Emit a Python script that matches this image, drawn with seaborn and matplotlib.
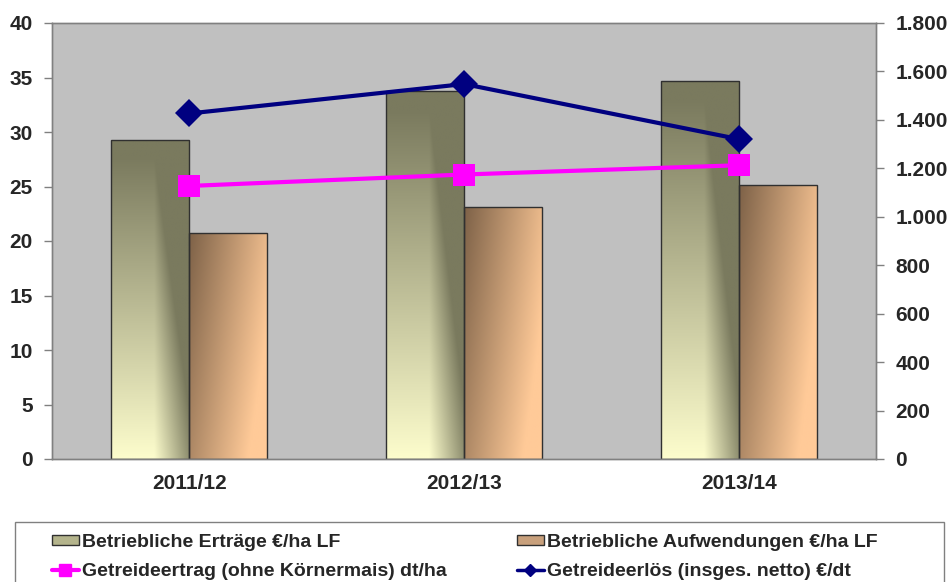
import numpy as np
import pandas as pd
import matplotlib
matplotlib.use("Agg")
import matplotlib.pyplot as plt
from matplotlib.patches import Patch, Rectangle
from matplotlib.lines import Line2D
from matplotlib.ticker import FuncFormatter, FixedLocator
import seaborn as sns

# Daten
jahre = ["2011/12", "2012/13", "2013/14"]
ertraege = [1316, 1518, 1561]          # Betriebliche Erträge €/ha LF (rechte Achse)
aufwendungen = [933, 1039, 1130]       # Betriebliche Aufwendungen €/ha LF (rechte Achse)
getreideertrag = [25.05, 26.1, 26.95]  # dt/ha (linke Achse)
getreideerloes = [31.7, 34.4, 29.35]   # €/dt (linke Achse)

lab_ertr = "Betriebliche Erträge €/ha LF"
lab_aufw = "Betriebliche Aufwendungen €/ha LF"
lab_getr = "Getreideertrag (ohne Körnermais) dt/ha"
lab_erl = "Getreideerlös (insges. netto) €/dt"

sns.set_style("white")
plt.rcParams["font.family"] = ["Liberation Sans", "DejaVu Sans"]
plt.rcParams["font.weight"] = "bold"

df = pd.DataFrame({
    "Jahr": jahre * 2,
    "Wert": ertraege + aufwendungen,
    "Serie": [lab_ertr] * 3 + [lab_aufw] * 3,
})

fig = plt.figure(figsize=(9.49, 5.82), dpi=100)
ax = fig.add_axes([52 / 949, 1 - 459 / 582, (876 - 52) / 949, (459 - 23) / 582])
ax.set_facecolor("#C0C0C0")

sns.barplot(data=df, x="Jahr", y="Wert", hue="Serie", order=jahre,
            hue_order=[lab_ertr, lab_aufw], palette=["#A8A880", "#C09870"],
            width=0.568, edgecolor="#303030", linewidth=1, saturation=1,
            legend=False, ax=ax)

# Farbverläufe in die Balken
def grad_img(kind, n=64):
    xs = np.linspace(0, 1, n)
    ys = np.linspace(1, 0, n)  # Bildzeile 0 = oben
    X, Y = np.meshgrid(xs, ys)
    if kind == 0:
        dark = np.array([0x7A, 0x7A, 0x5E]) / 255
        light = np.array([0xFC, 0xFC, 0xCC]) / 255
        t = np.clip(Y * 1.05 + np.clip((X - 0.55) / 0.45, 0, 1) * 0.85, 0, 1)
    else:
        dark = np.array([0x7E, 0x62, 0x48]) / 255
        light = np.array([0xFF, 0xCA, 0x98]) / 255
        t = np.clip(1 - (0.8 * X + 0.35 * (1 - Y)) * 1.05, 0, 1)
    img = light[None, None, :] * (1 - t[..., None]) + dark[None, None, :] * t[..., None]
    return img

for k, cont in enumerate(ax.containers):
    for bar in cont:
        x0, y0 = bar.get_x(), bar.get_y()
        w, h = bar.get_width(), bar.get_height()
        im = ax.imshow(grad_img(k), extent=[x0, x0 + w, y0, y0 + h],
                       aspect="auto", zorder=bar.get_zorder(), interpolation="bilinear")
        im.set_clip_path(bar)
        bar.set_facecolor("none")
        bar.set_zorder(bar.get_zorder() + 0.1)

ax.set_xlim(-0.5, 2.5)
ax.set_ylim(0, 1800)
ax.set_xlabel("")
ax.set_ylabel("")

# Linien auf der linken Achse
ax2 = ax.twinx()
pos = np.arange(len(jahre))
sns.lineplot(x=pos, y=getreideertrag, color="#FF00FF", marker="s", markersize=16,
             markeredgewidth=0, linewidth=3, ax=ax2)
sns.lineplot(x=pos, y=getreideerloes, color="#000080", marker="D", markersize=14,
             markeredgewidth=0, linewidth=3, ax=ax2)
ax2.set_ylim(0, 40)
ax2.set_xlim(-0.5, 2.5)
ax2.set_ylabel("")

# Achsen: links 0-40 (Linien), rechts 0-1.800 (Balken)
ax2.yaxis.tick_left()
ax2.yaxis.set_major_locator(FixedLocator(np.arange(0, 41, 5)))
ax.yaxis.tick_right()
ax.yaxis.set_label_position("right")
ax.yaxis.set_major_locator(FixedLocator(np.arange(0, 1801, 200)))
ax.yaxis.set_major_formatter(FuncFormatter(lambda v, p: f"{v:,.0f}".replace(",", ".")))

for a in (ax, ax2):
    for s in a.spines.values():
        s.set_color("#808080")
        s.set_linewidth(1)
    a.tick_params(axis="y", direction="out", length=6, width=1, color="#808080",
                  labelsize=15, pad=8)

ax.set_xticks(pos)
ax.set_xticklabels(jahre, fontsize=15, fontweight="bold")
ax.tick_params(axis="x", length=0, pad=11)
ax.set_xticks([-0.5, 0.5, 1.5, 2.5], minor=True)
ax.tick_params(axis="x", which="minor", direction="out", length=6, color="#808080")

# Legende mit Rahmen
fig.patches.append(Rectangle((15 / 949, -0.05), (944 - 15) / 949, 0.05 + 1 - 522 / 582,
                             transform=fig.transFigure, facecolor="white",
                             edgecolor="#808080", linewidth=1))
handles = [
    Patch(facecolor="#B4B48C", edgecolor="#303030", label=lab_ertr),
    Line2D([], [], color="#FF00FF", marker="s", markersize=8, linewidth=3, label=lab_getr),
    Patch(facecolor="#C8A07C", edgecolor="#303030", label=lab_aufw),
    Line2D([], [], color="#000080", marker="D", markersize=6, linewidth=2.5, label=lab_erl),
]
fig.legend(handles=handles, ncol=2, loc="upper left", frameon=False,
           bbox_to_anchor=(42 / 949, 1 - 524 / 582),
           prop={"weight": "bold", "size": 14}, handlelength=1.4, handleheight=0.45,
           handletextpad=0.15, columnspacing=3.6, labelspacing=0.65, borderpad=0)

fig.savefig("out.png", dpi=100)
